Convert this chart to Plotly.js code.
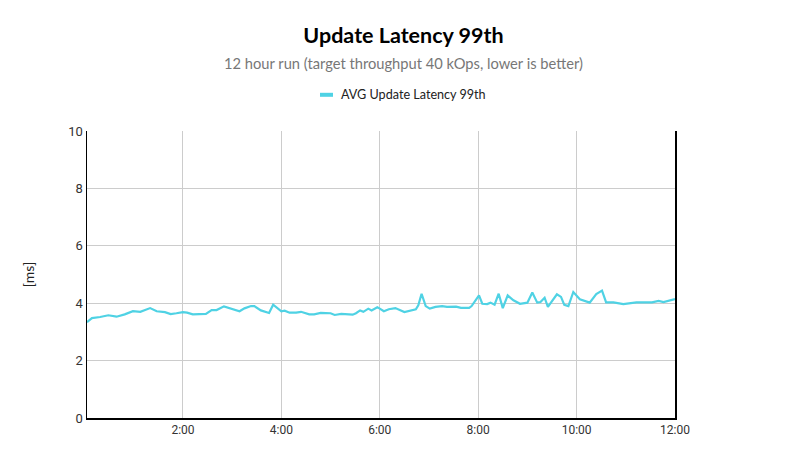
<!DOCTYPE html>
<html>
<head>
<meta charset="utf-8">
<script src="https://cdn.plot.ly/plotly-3.0.1.min.js"></script>
<style>html,body{margin:0;padding:0;background:#fff;}#chart{width:807px;height:464px;}</style>
</head>
<body>
<div id="chart"></div>
<script>
// elapsed time in minutes since start of the run
const minutes = [3, 9, 19, 29, 39, 49, 59, 68, 80, 88, 98, 105, 112,
  120, 125, 132, 140, 148, 155, 161, 170, 179, 189, 195, 203, 207, 215, 225, 230,
  240, 244, 250, 258, 264, 274, 280, 288, 300, 305, 313, 321, 327, 331, 336, 340, 346, 350, 357,
  359, 365, 371, 379, 390, 398, 404, 407, 411, 416, 421, 428, 436, 442, 453, 459, 469, 472,
  481, 485, 491, 495, 500, 505, 510, 516, 523, 531, 540, 546, 552, 556, 561, 565, 576, 581, 585, 590, 596,
  604, 616, 624, 631, 636, 645, 657, 665, 673, 681, 692, 700, 706, 720];
// AVG Update Latency 99th [ms]
const latency = [3.34, 3.48, 3.52, 3.58, 3.53, 3.61, 3.72, 3.70, 3.83, 3.72, 3.69, 3.62, 3.65,
  3.69, 3.67, 3.61, 3.62, 3.63, 3.76, 3.76, 3.89, 3.81, 3.72, 3.82, 3.90, 3.90, 3.75, 3.66, 3.95,
  3.72, 3.74, 3.67, 3.67, 3.70, 3.61, 3.61, 3.66, 3.65, 3.59, 3.63, 3.62, 3.60, 3.65, 3.75, 3.70, 3.81, 3.75, 3.86,
  3.83, 3.72, 3.79, 3.83, 3.69, 3.75, 3.79, 3.93, 4.33, 3.90, 3.81, 3.87, 3.90, 3.87, 3.88, 3.84, 3.84, 3.90,
  4.27, 3.98, 3.97, 4.02, 3.95, 4.33, 3.83, 4.27, 4.10, 3.98, 4.02, 4.37, 4.02, 4.04, 4.19, 3.87, 4.31, 4.22, 3.94, 3.90, 4.39,
  4.14, 4.02, 4.32, 4.44, 4.03, 4.03, 3.97, 4.00, 4.03, 4.03, 4.03, 4.08, 4.04, 4.14];
const tickMinutes = [120, 240, 360, 480, 600, 720];
const tickLabels = ["2:00", "4:00", "6:00", "8:00", "10:00", "12:00"];
const yTicks = [0, 2, 4, 6, 8, 10];
const seriesName = 'AVG Update Latency 99th';
const lineColor = '#4fd2e4';

const PL = 87, PR = 675, PT = 131, PB = 418;
const px = v => (v - PL) / (PR - PL);
const py = v => (PB - v) / (PB - PT);

const trace = {
  x: minutes, y: latency, type: 'scatter', mode: 'lines',
  name: seriesName, showlegend: false,
  line: {color: lineColor, width: 2.2}
};
const layout = {
  width: 807, height: 464,
  margin: {l: 87, r: 132, t: 131, b: 46},
  paper_bgcolor: '#fff', plot_bgcolor: '#fff',
  title: {text: '<b>Update Latency 99th</b>', x: 0.5, xref: 'container', y: 1 - 35/464, yref: 'container', yanchor: 'middle',
    font: {family: 'Lato, "Open Sans", sans-serif', size: 21.5, color: '#000'}},
  annotations: [{
    text: '12 hour run (target throughput 40 kOps, lower is better)',
    xref: 'paper', yref: 'paper', x: px(403), y: py(63), xanchor: 'center', yanchor: 'middle',
    showarrow: false, font: {family: 'Lato, "Open Sans", sans-serif', size: 14.7, color: '#777'}
  }, {
    text: seriesName,
    xref: 'paper', yref: 'paper', x: px(339), y: py(95), xanchor: 'left', yanchor: 'middle',
    showarrow: false, font: {family: 'Lato, "Open Sans", sans-serif', size: 12.6, color: '#222'}
  }],
  shapes: [{
    type: 'rect', xref: 'paper', yref: 'paper', layer: 'above',
    x0: px(320), x1: px(333), y0: py(96.8), y1: py(92.8),
    fillcolor: lineColor, line: {width: 0}
  }],
  showlegend: false,
  xaxis: {
    range: [3, 720], tickvals: tickMinutes, ticktext: tickLabels,
    showgrid: true, gridcolor: '#cccccc', gridwidth: 1,
    showline: true, linecolor: '#000', linewidth: 1.5, zeroline: false,
    ticks: '', tickfont: {family: 'Roboto, sans-serif', size: 12, color: '#333'}
  },
  yaxis: {
    range: [0, 10], tickvals: yTicks,
    showgrid: true, gridcolor: '#cccccc', gridwidth: 1,
    showline: true, mirror: true, linecolor: '#000', linewidth: 1.5, zeroline: false,
    ticks: '', tickfont: {family: 'Roboto, sans-serif', size: 13, color: '#333'},
    title: {text: '[ms]', standoff: 30, font: {family: 'Lato, "Open Sans", sans-serif', size: 14, color: '#222'}}
  }
};
Plotly.newPlot('chart', [trace], layout, {displayModeBar: false, staticPlot: true});
</script>
</body>
</html>
